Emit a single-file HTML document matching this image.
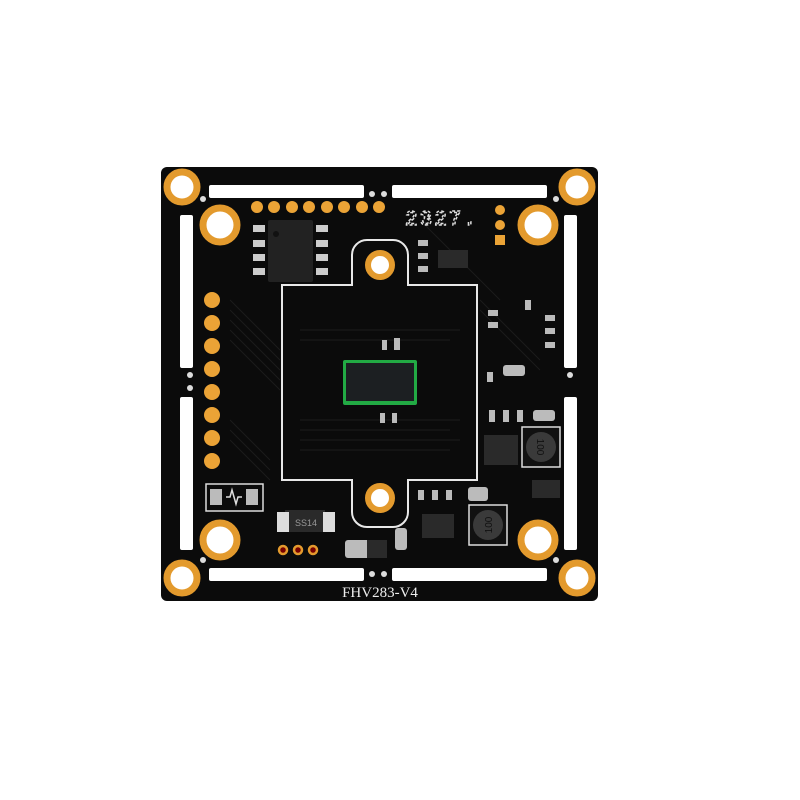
<!DOCTYPE html>
<html><head><style>html,body{margin:0;padding:0;background:#fff;}svg{display:block}</style></head>
<body>
<svg width="800" height="800" viewBox="0 0 800 800" xmlns="http://www.w3.org/2000/svg">
<rect width="800" height="800" fill="#fff"/>
<!-- board -->
<rect x="161" y="167" width="437" height="434" rx="6" fill="#0b0b0b"/>
<!-- slots -->
<g fill="#fff">
<rect x="209" y="185" width="155" height="13" rx="2"/>
<rect x="392" y="185" width="155" height="13" rx="2"/>
<rect x="209" y="568" width="155" height="13" rx="2"/>
<rect x="392" y="568" width="155" height="13" rx="2"/>
<rect x="180" y="215" width="13" height="153" rx="2"/>
<rect x="180" y="397" width="13" height="153" rx="2"/>
<rect x="564" y="215" width="13" height="153" rx="2"/>
<rect x="564" y="397" width="13" height="153" rx="2"/>
</g>
<!-- small white dots near slots -->
<g fill="#ddd">
<circle cx="372" cy="194" r="3"/><circle cx="384" cy="194" r="3"/>
<circle cx="372" cy="574" r="3"/><circle cx="384" cy="574" r="3"/>
<circle cx="190" cy="375" r="3"/><circle cx="190" cy="388" r="3"/>
<circle cx="570" cy="375" r="3"/>
<circle cx="203" cy="199" r="3"/><circle cx="556" cy="199" r="3"/>
<circle cx="203" cy="560" r="3"/><circle cx="556" cy="560" r="3"/>
</g>
<!-- traces hint -->
<g stroke="#1c1c1c" stroke-width="1" fill="none">
<path d="M230 300 L280 350 M230 310 L280 360 M230 320 L280 370 M230 330 L280 380 M230 340 L280 390 M230 420 L270 460 M230 430 L270 470 M230 440 L270 480"/>
<path d="M300 330 H460 M300 340 H450 M300 420 H460 M300 430 H450 M300 440 H460 M300 450 H450"/>
<path d="M480 300 L540 360 M480 310 L540 370 M420 220 L500 300"/>
</g>
<!-- center outline -->
<path d="M282 285 H352 V255 A15 15 0 0 1 367 240 H393 A15 15 0 0 1 408 255 V285 H477 V480 H408 V512 A15 15 0 0 1 393 527 H367 A15 15 0 0 1 352 512 V480 H282 Z" fill="none" stroke="#e8e8e8" stroke-width="2"/>
<!-- mounting holes center -->
<g fill="#fff" stroke="#e39a2d" stroke-width="6">
<circle cx="380" cy="265" r="12"/>
<circle cx="380" cy="498" r="12"/>
</g>
<!-- corner pads -->
<g fill="#fff" stroke="#e39a2d" stroke-width="7">
<circle cx="182" cy="187" r="15"/><circle cx="577" cy="187" r="15"/>
<circle cx="182" cy="578" r="15"/><circle cx="577" cy="578" r="15"/>
<circle cx="220" cy="225" r="17"/><circle cx="538" cy="225" r="17"/>
<circle cx="220" cy="540" r="17"/><circle cx="538" cy="540" r="17"/>
</g>
<!-- top pad row -->
<g fill="#eba336">
<circle cx="257" cy="207" r="6"/><circle cx="274" cy="207" r="6"/><circle cx="292" cy="207" r="6"/><circle cx="309" cy="207" r="6"/><circle cx="327" cy="207" r="6"/><circle cx="344" cy="207" r="6"/><circle cx="362" cy="207" r="6"/><circle cx="379" cy="207" r="6"/>
</g>
<!-- left pad column -->
<g fill="#eba336">
<circle cx="212" cy="300" r="8"/><circle cx="212" cy="323" r="8"/><circle cx="212" cy="346" r="8"/><circle cx="212" cy="369" r="8"/><circle cx="212" cy="392" r="8"/><circle cx="212" cy="415" r="8"/><circle cx="212" cy="438" r="8"/><circle cx="212" cy="461" r="8"/>
</g>
<!-- right small pads -->
<g fill="#eba336">
<circle cx="500" cy="210" r="5"/><circle cx="500" cy="225" r="5"/><rect x="495" y="235" width="10" height="10"/>
</g>
<!-- 2327 text -->
<text x="405" y="225" font-family="Liberation Mono, monospace" font-size="21" fill="none" stroke="#ddd" stroke-width="1.5" stroke-dasharray="3 2" letter-spacing="2">2327.</text>
<!-- IC top-left -->
<rect x="268" y="220" width="45" height="62" rx="2" fill="#222"/>
<circle cx="276" cy="234" r="3" fill="#111"/>
<g fill="#ccc">
<rect x="253" y="225" width="12" height="7"/><rect x="253" y="240" width="12" height="7"/><rect x="253" y="254" width="12" height="7"/><rect x="253" y="268" width="12" height="7"/>
<rect x="316" y="225" width="12" height="7"/><rect x="316" y="240" width="12" height="7"/><rect x="316" y="254" width="12" height="7"/><rect x="316" y="268" width="12" height="7"/>
</g>
<!-- sensor -->
<rect x="343" y="360" width="74" height="45" rx="2" fill="#2a4" />
<rect x="346" y="363" width="68" height="38" fill="#1c1f22"/>
<!-- small components -->
<g fill="#bbb">
<rect x="382" y="340" width="5" height="10"/><rect x="394" y="338" width="6" height="12"/>
<rect x="380" y="413" width="5" height="10"/><rect x="392" y="413" width="5" height="10"/>
<rect x="418" y="240" width="10" height="6"/><rect x="418" y="253" width="10" height="6"/><rect x="418" y="266" width="10" height="6"/>
<rect x="488" y="310" width="10" height="6"/><rect x="488" y="322" width="10" height="6"/>
<rect x="525" y="300" width="6" height="10"/><rect x="545" y="315" width="10" height="6"/><rect x="545" y="328" width="10" height="6"/><rect x="545" y="342" width="10" height="6"/>
<rect x="487" y="372" width="6" height="10"/>
<rect x="503" y="365" width="22" height="11" rx="3"/>
<rect x="533" y="410" width="22" height="11" rx="3"/>
<rect x="468" y="487" width="20" height="14" rx="3"/>
<rect x="345" y="540" width="42" height="18" rx="3"/>
<rect x="395" y="528" width="12" height="22" rx="3"/>
<rect x="418" y="490" width="6" height="10"/><rect x="432" y="490" width="6" height="10"/><rect x="446" y="490" width="6" height="10"/>
<rect x="489" y="410" width="6" height="12"/><rect x="503" y="410" width="6" height="12"/><rect x="517" y="410" width="6" height="12"/>
</g>
<!-- dark parts -->
<g fill="#2a2a2a">
<rect x="438" y="250" width="30" height="18"/>
<rect x="484" y="435" width="34" height="30"/>
<rect x="532" y="480" width="28" height="18"/>
<rect x="422" y="514" width="32" height="24"/>
<rect x="367" y="540" width="20" height="18"/>
<rect x="285" y="510" width="40" height="22"/>
</g>
<!-- inductors -->
<rect x="522" y="427" width="38" height="40" fill="#111" stroke="#ddd" stroke-width="1.5"/>
<circle cx="541" cy="447" r="15" fill="#3a3a3a"/>
<text x="541" y="451" font-family="Liberation Sans, sans-serif" font-size="10" fill="#111" text-anchor="middle" transform="rotate(90 541 447)">100</text>
<rect x="469" y="505" width="38" height="40" fill="#111" stroke="#ddd" stroke-width="1.5"/>
<circle cx="488" cy="525" r="15" fill="#3a3a3a"/>
<text x="488" y="529" font-family="Liberation Sans, sans-serif" font-size="10" fill="#111" text-anchor="middle" transform="rotate(-90 488 525)">100</text>
<!-- SS14 diode -->
<rect x="277" y="512" width="12" height="20" fill="#ddd"/><rect x="323" y="512" width="12" height="20" fill="#ddd"/>
<text x="306" y="526" font-family="Liberation Sans, sans-serif" font-size="9" fill="#999" text-anchor="middle">SS14</text>
<!-- fuse box -->
<rect x="206" y="484" width="57" height="27" fill="none" stroke="#ddd" stroke-width="1.5"/>
<rect x="210" y="489" width="12" height="16" fill="#bbb"/><rect x="246" y="489" width="12" height="16" fill="#bbb"/>
<path d="M226 497 H230 L232 490 L236 504 L238 497 H242" stroke="#ddd" fill="none" stroke-width="1.5"/>
<!-- three holes -->
<g fill="#700" stroke="#e39a2d" stroke-width="2.5">
<circle cx="283" cy="550" r="4"/><circle cx="298" cy="550" r="4"/><circle cx="313" cy="550" r="4"/>
</g>
<text x="380" y="597" font-family="Liberation Serif, serif" font-size="15" fill="#eee" text-anchor="middle">FHV283-V4</text>
</svg>
</body></html>
